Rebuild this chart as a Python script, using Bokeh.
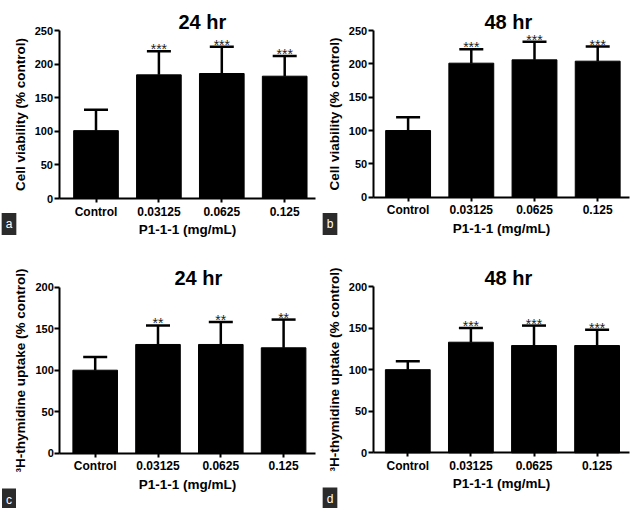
from bokeh.plotting import figure
from bokeh.layouts import column, row
from bokeh.models import ColumnDataSource, Whisker, TeeHead, Label, Range1d, FixedTicker
from bokeh.core.properties import value
from bokeh.embed import file_html
from bokeh.resources import INLINE

# ---------------- data ----------------
categories = ["Control", "0.03125", "0.0625", "0.125"]

viability_24_mean = [101, 184, 186, 182]
viability_24_err = [31, 35, 40, 30]
viability_24_sig = ["", "***", "***", "***"]

viability_48_mean = [100, 201, 206, 204]
viability_48_err = [20, 21, 27, 22]
viability_48_sig = ["", "***", "***", "***"]

thymidine_24_mean = [100, 131, 131, 127]
thymidine_24_err = [16, 23, 27, 34]
thymidine_24_sig = ["", "**", "**", "**"]

thymidine_48_mean = [100, 133, 129, 129]
thymidine_48_err = [10, 17, 24, 19]
thymidine_48_sig = ["", "***", "***", "***"]

viability_ticks = [0, 50, 100, 150, 200, 250]
thymidine_ticks = [0, 50, 100, 150, 200]

viability_label = "Cell viability (% control)"
thymidine_label = "\u00b3H-thymidine uptake (% control)"
x_label = "P1-1-1 (mg/mL)"

FONT = "Liberation Sans"


def panel(mean, err, sig, ymax, yticks, ylabel, title, letter, width, height, geo):
    """geo: pixel layout of the panel (axis position, first category centre,
    category step, y pixel of 0 and of ymax, title and letter anchors)."""
    def dx(px):
        return (px - geo["c0"]) / geo["step"]

    def dy(py):
        return ymax * (geo["y0"] - py) / (geo["y0"] - geo["ytop"])

    p = figure(width=width, height=height, output_backend="svg",
               toolbar_location=None,
               x_range=Range1d(dx(0), dx(width)),
               y_range=Range1d(dy(height), dy(0)),
               min_border_left=0, min_border_right=0,
               min_border_top=0, min_border_bottom=0)
    p.title.visible = False

    xs = list(range(len(categories)))
    upper = [m + e for m, e in zip(mean, err)]
    src = ColumnDataSource(dict(x=xs, top=mean, upper=upper, sig=sig))

    p.vbar(x="x", top="top", bottom=0, width=0.71, source=src,
           fill_color="black", line_color="black")
    p.add_layout(Whisker(base="x", upper="upper", lower="top", source=src,
                         dimension="height", line_width=2.5, line_color="black",
                         upper_head=TeeHead(size=24, line_width=2.5, line_color="black"),
                         lower_head=None))
    p.text(x="x", y="upper", text="sig", source=src, text_align="center",
           text_baseline="alphabetic", y_offset=-2,
           text_font=value(FONT), text_font_size="14px", text_color="#222222")

    p.add_layout(Label(x=dx(geo["title_x"]), y=dy(geo["title_y"]), text=title,
                       text_align="left", text_baseline="alphabetic",
                       text_font=FONT, text_font_size="20px",
                       text_font_style="bold", text_color="black"))
    p.add_layout(Label(x=dx(geo["letter_x"]), y=dy(geo["letter_y"]), text=letter,
                       text_align="center", text_baseline="middle",
                       text_font=FONT, text_font_size="12px",
                       text_color="white", background_fill_color="#2b2b2b",
                       padding=4))

    p.xgrid.visible = False
    p.ygrid.visible = False
    p.outline_line_color = None
    p.background_fill_color = "white"
    p.border_fill_color = "white"

    xa = p.xaxis[0]
    xa.fixed_location = 0
    xa.bounds = (dx(geo["axis_x"]), dx(geo["axis_end"]))
    xa.ticker = FixedTicker(ticks=xs, minor_ticks=[])
    xa.major_label_overrides = {i: c for i, c in enumerate(categories)}
    xa.axis_label = x_label
    xa.axis_line_width = 2
    xa.major_tick_line_width = 2
    xa.major_tick_out = 4
    xa.major_tick_in = 0
    xa.minor_tick_line_color = None
    xa.major_label_standoff = 2
    xa.axis_label_standoff = 0
    xa.major_label_text_font = FONT
    xa.major_label_text_font_size = "12px"
    xa.major_label_text_font_style = "bold"
    xa.major_label_text_color = "black"
    xa.axis_label_text_font = FONT
    xa.axis_label_text_font_size = "13.5px"
    xa.axis_label_text_font_style = "bold"
    xa.axis_label_text_color = "black"

    ya = p.yaxis[0]
    ya.fixed_location = dx(geo["axis_x"])
    ya.bounds = (0, ymax)
    ya.ticker = FixedTicker(ticks=yticks, minor_ticks=[])
    ya.axis_label = ylabel
    ya.axis_line_width = 2
    ya.major_tick_line_width = 2
    ya.major_tick_out = 5
    ya.major_tick_in = 0
    ya.minor_tick_line_color = None
    ya.major_label_standoff = 1
    ya.axis_label_standoff = 4
    ya.major_label_text_font = FONT
    ya.major_label_text_font_size = "11px"
    ya.major_label_text_font_style = "bold"
    ya.major_label_text_color = "black"
    ya.axis_label_text_font = FONT
    ya.axis_label_text_font_size = "13.5px"
    ya.axis_label_text_font_style = "bold"
    ya.axis_label_text_color = "black"
    return p


TOP_H = 240
BOTTOM_H = 268

geo_a = dict(axis_x=58.5, axis_end=315, c0=95.5, step=62.9, y0=198, ytop=30,
             title_x=178, title_y=21, letter_x=8.5, letter_y=223.5)
geo_b = dict(axis_x=55.7, axis_end=312, c0=90.6, step=63.2, y0=196.7, ytop=30,
             title_x=167, title_y=21, letter_x=12.5, letter_y=223.5)
geo_c = dict(axis_x=59.3, axis_end=315, c0=94.7, step=62.8, y0=212.7, ytop=46.7,
             title_x=174, title_y=37, letter_x=8.5, letter_y=259)
geo_d = dict(axis_x=55.7, axis_end=312, c0=90.3, step=63.1, y0=212.3, ytop=46,
             title_x=167, title_y=37, letter_x=12.5, letter_y=258)

pa = panel(viability_24_mean, viability_24_err, viability_24_sig, 250, viability_ticks,
           viability_label, "24 hr", "a", 317, TOP_H, geo_a)
pb = panel(viability_48_mean, viability_48_err, viability_48_sig, 250, viability_ticks,
           viability_label, "48 hr", "b", 317, TOP_H, geo_b)
pc = panel(thymidine_24_mean, thymidine_24_err, thymidine_24_sig, 200, thymidine_ticks,
           thymidine_label, "24 hr", "c", 317, BOTTOM_H, geo_c)
pd_ = panel(thymidine_48_mean, thymidine_48_err, thymidine_48_sig, 200, thymidine_ticks,
            thymidine_label, "48 hr", "d", 317, BOTTOM_H, geo_d)

layout = column(row(pa, pb, spacing=0), row(pc, pd_, spacing=0), spacing=0)

with open("out.html", "w") as f:
    f.write(file_html(layout, INLINE))
